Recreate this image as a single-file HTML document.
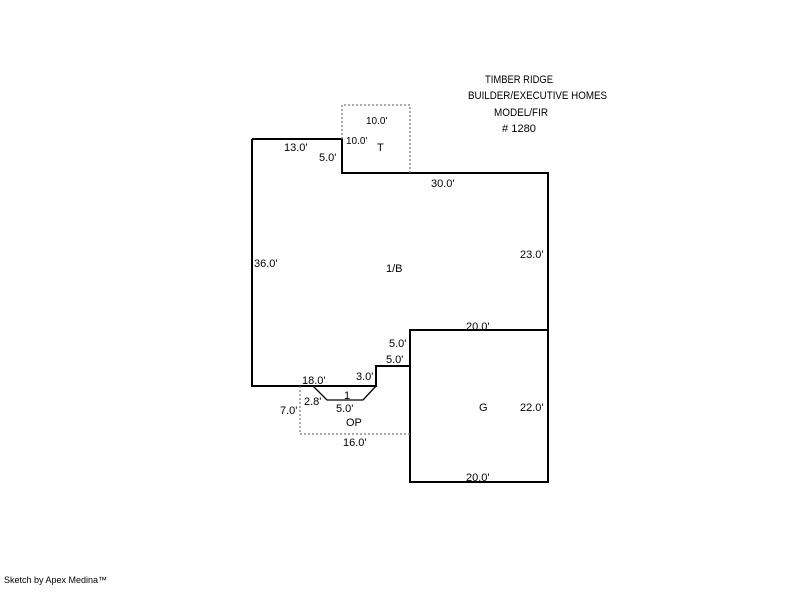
<!DOCTYPE html>
<html><head><style>body{margin:0;background:#fff}svg text{font-family:"Liberation Sans",Arial,sans-serif;font-size:11px;fill:#000}</style></head><body>
<svg width="800" height="587" xmlns="http://www.w3.org/2000/svg">
<g fill="none" stroke="#000" stroke-width="2">
<polyline points="252,139 342,139 342,173 548,173 548,330 410,330 410,366 376,366 376,386 252,386 252,139"/>
<polyline points="410,330 410,482 548,482 548,330"/>
</g>
<g fill="none" stroke="#777" stroke-width="1.2" stroke-dasharray="2,2">
<polyline points="342,139 342,105 410,105 410,173"/>
<polyline points="300,386 300,434 410,434"/>
</g>
<polyline points="313,386 327,400 363,400 376,386" fill="none" stroke="#000" stroke-width="1.3"/>
<text x="485" y="83" textLength="68" lengthAdjust="spacingAndGlyphs">TIMBER RIDGE</text>
<text x="468" y="99" textLength="139" lengthAdjust="spacingAndGlyphs">BUILDER/EXECUTIVE HOMES</text>
<text x="494" y="116" textLength="54" lengthAdjust="spacingAndGlyphs">MODEL/FIR</text>
<text x="502" y="132" textLength="34" lengthAdjust="spacingAndGlyphs"># 1280</text>
<text x="366" y="124" style="font-size:10px">10.0'</text>
<text x="346" y="144" style="font-size:10px">10.0'</text>
<text x="377" y="151">T</text>
<text x="284" y="151">13.0'</text>
<text x="319" y="161">5.0'</text>
<text x="431" y="187">30.0'</text>
<text x="254" y="267">36.0'</text>
<text x="386" y="272">1/B</text>
<text x="520" y="258">23.0'</text>
<text x="466" y="330">20.0'</text>
<text x="389" y="347">5.0'</text>
<text x="386" y="363">5.0'</text>
<text x="356" y="380">3.0'</text>
<text x="302" y="384">18.0'</text>
<text x="344" y="399">1</text>
<text x="304" y="405">2.8'</text>
<text x="336" y="412">5.0'</text>
<text x="280" y="414">7.0'</text>
<text x="346" y="426">OP</text>
<text x="343" y="446">16.0'</text>
<text x="479" y="411">G</text>
<text x="520" y="411">22.0'</text>
<text x="466" y="481">20.0'</text>
<text x="4" y="583" style="font-size:9px">Sketch by Apex Medina™</text>
</svg>
</body></html>
